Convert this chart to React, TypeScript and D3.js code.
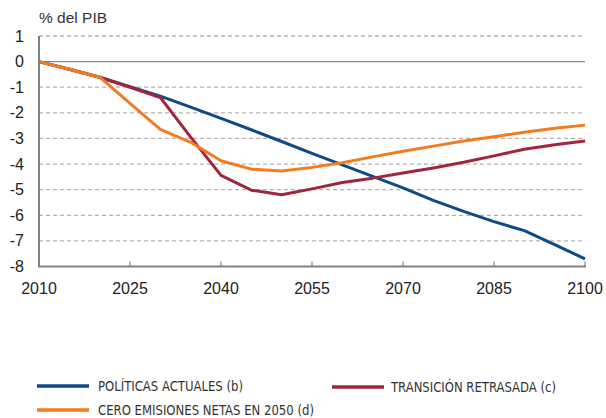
import React from "react";
import * as d3 from "d3";

const years = [2010, 2015, 2020, 2025, 2030, 2035, 2040, 2045, 2050, 2055, 2060, 2065, 2070, 2075, 2080, 2085, 2090, 2095, 2100];
const politicasActuales = [0, -0.3, -0.61, -0.98, -1.35, -1.78, -2.22, -2.66, -3.12, -3.58, -4.03, -4.48, -4.93, -5.42, -5.85, -6.25, -6.6, -7.15, -7.7];
const transicionRetrasada = [0, -0.3, -0.61, -1.0, -1.4, -2.95, -4.44, -5.02, -5.2, -4.97, -4.72, -4.55, -4.35, -4.15, -3.93, -3.68, -3.42, -3.25, -3.1];
const ceroEmisiones = [0, -0.3, -0.61, -1.63, -2.65, -3.15, -3.87, -4.2, -4.27, -4.13, -3.95, -3.72, -3.5, -3.3, -3.1, -2.93, -2.76, -2.6, -2.48];

const xTicks = [2010, 2025, 2040, 2055, 2070, 2085, 2100];
const yTicks = [1, 0, -1, -2, -3, -4, -5, -6, -7, -8];

const seriesNames = ["POLÍTICAS ACTUALES (b)", "TRANSICIÓN RETRASADA (c)", "CERO EMISIONES NETAS EN 2050 (d)"];
const seriesColors = ["#0d4a87", "#a0263f", "#f47b20"];

export default function App() {
  const W = 606, H = 418;
  const x = d3.scaleLinear().domain([2010, 2100]).range([39, 585]);
  const y = d3.scaleLinear().domain([1, -8]).range([36, 266.5]);
  const font = "'Liberation Sans', Arial, Helvetica, sans-serif";
  const narrow = "'Liberation Sans Narrow', 'Arial Narrow', 'DejaVu Sans Condensed', sans-serif";
  const allSeries = [politicasActuales, transicionRetrasada, ceroEmisiones];
  const line = d3.line<number>().x((_, i) => x(years[i])).y((v) => y(v));
  const drawOrder = [0, 1, 2];
  const legendPos = [
    { x0: 37, x1: 89, y: 386, tx: 98, len: 145 },
    { x0: 332, x1: 384, y: 387, tx: 391, len: 165 },
    { x0: 37, x1: 89, y: 410, tx: 98, len: 216 },
  ];
  return (
    <svg width={W} height={H} style={{ position: "fixed", left: 0, top: 0, background: "#fff" }}>
      <text x={39} y={23} fontFamily={font} fontSize={15.5} fill="#333">% del PIB</text>
      {yTicks.filter((t) => t !== 0 && t !== -8).map((t) => (
        <line key={"g" + t} x1={x(2010)} x2={x(2100)} y1={y(t)} y2={y(t)} stroke="#b3b3b3" strokeWidth={1.3} strokeDasharray="4,3" />
      ))}
      <line x1={x(2010)} x2={x(2100)} y1={y(0)} y2={y(0)} stroke="#8a8a8a" strokeWidth={1.3} />
      {yTicks.map((t) => (
        <text key={"yl" + t} x={24} y={y(t) + 5.5} textAnchor="end" fontFamily={font} fontSize={16} fill="#222">{t}</text>
      ))}
      {xTicks.map((t) => (
        <g key={"x" + t}>
          <line x1={x(t)} x2={x(t)} y1={y(-8)} y2={y(-8) - 5} stroke="#9a9a9a" strokeWidth={1.5} />
          <text x={x(t)} y={294} textAnchor="middle" fontFamily={font} fontSize={16} fill="#222">{t}</text>
        </g>
      ))}
      <line x1={x(2010)} x2={x(2010)} y1={y(1)} y2={y(-8)} stroke="#808080" strokeWidth={2} />
      <line x1={x(2010) - 1} x2={x(2100) + 1} y1={y(-8)} y2={y(-8)} stroke="#808080" strokeWidth={2} />
      {drawOrder.map((i) => (
        <path key={"s" + i} d={line(allSeries[i]) || ""} fill="none" stroke={seriesColors[i]} strokeWidth={3} strokeLinejoin="round" />
      ))}
      {seriesNames.map((n, i) => (
        <g key={"l" + i}>
          <line x1={legendPos[i].x0} x2={legendPos[i].x1} y1={legendPos[i].y} y2={legendPos[i].y} stroke={seriesColors[i]} strokeWidth={3.5} />
          <text x={legendPos[i].tx} y={legendPos[i].y + 5} fontFamily={narrow} fontSize={14} fill="#333" textLength={legendPos[i].len} lengthAdjust="spacingAndGlyphs">{n}</text>
        </g>
      ))}
    </svg>
  );
}
